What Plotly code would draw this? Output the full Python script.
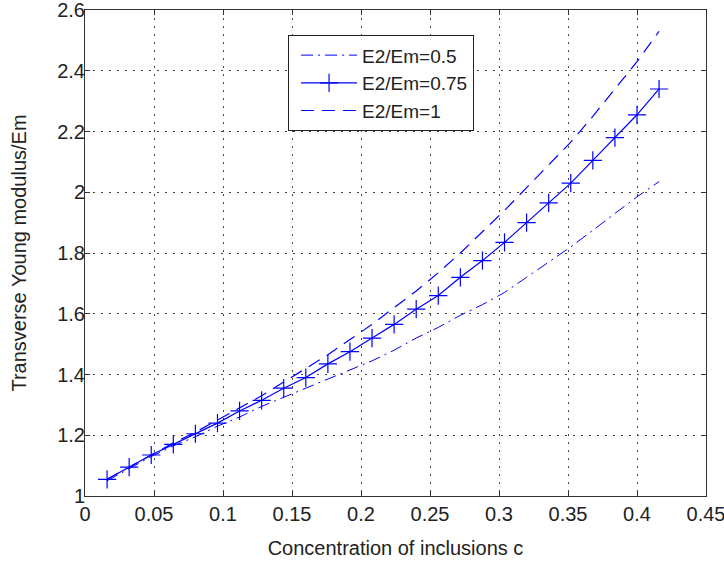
import plotly.graph_objects as go

# Concentration of inclusions c
c_vals = [0.016, 0.032, 0.048, 0.064, 0.080, 0.096, 0.112, 0.128, 0.144, 0.160,
          0.176, 0.192, 0.208, 0.224, 0.240, 0.256, 0.272, 0.288, 0.304, 0.320,
          0.336, 0.352, 0.368, 0.384, 0.400, 0.416]

# E2/Em = 0.5
e_050 = [1.050, 1.090, 1.130, 1.165, 1.195, 1.230, 1.260, 1.295, 1.325, 1.355,
         1.385, 1.415, 1.445, 1.480, 1.520, 1.555, 1.595, 1.630, 1.670, 1.720,
         1.770, 1.820, 1.875, 1.930, 1.985, 2.035]

# E2/Em = 0.75
e_075 = [1.055, 1.095, 1.135, 1.170, 1.205, 1.240, 1.280, 1.315, 1.355, 1.390,
         1.435, 1.475, 1.520, 1.565, 1.615, 1.660, 1.720, 1.775, 1.835, 1.900,
         1.965, 2.030, 2.105, 2.180, 2.255, 2.340]

# E2/Em = 1
e_100 = [1.055, 1.095, 1.135, 1.175, 1.210, 1.250, 1.290, 1.330, 1.375, 1.420,
         1.465, 1.515, 1.565, 1.620, 1.675, 1.735, 1.800, 1.870, 1.940, 2.015,
         2.090, 2.165, 2.250, 2.340, 2.430, 2.530]

x_ticks = [0, 0.05, 0.1, 0.15, 0.2, 0.25, 0.3, 0.35, 0.4, 0.45]
x_tick_text = ["0", "0.05", "0.1", "0.15", "0.2", "0.25", "0.3", "0.35", "0.4", "0.45"]
y_ticks = [1, 1.2, 1.4, 1.6, 1.8, 2, 2.2, 2.4, 2.6]
y_tick_text = ["1", "1.2", "1.4", "1.6", "1.8", "2", "2.2", "2.4", "2.6"]

BLUE = "#0000ff"
FONT = "Liberation Sans, Arial, sans-serif"
TXT = "#222222"

fig = go.Figure()
fig.add_trace(go.Scatter(
    x=c_vals, y=e_050, mode="lines", name="E2/Em=0.5",
    line=dict(color=BLUE, width=1, dash="12px,5px,2px,5px"),
))
fig.add_trace(go.Scatter(
    x=c_vals, y=e_075, mode="lines+markers", name="E2/Em=0.75",
    line=dict(color=BLUE, width=1.2),
    marker=dict(symbol="cross-thin", size=13, color=BLUE,
                line=dict(color=BLUE, width=1.2)),
))
fig.add_trace(go.Scatter(
    x=c_vals, y=e_100, mode="lines", name="E2/Em=1",
    line=dict(color=BLUE, width=1.2, dash="13px,8px"),
))

axis_common = dict(
    showline=True, linecolor="#333333", linewidth=1, mirror="ticks",
    ticks="inside", ticklen=5, tickcolor="#333333", tickwidth=1,
    showgrid=True, gridcolor="#444444", gridwidth=1, griddash="2px,6px",
    zeroline=False, automargin=False, ticklabeloverflow="allow",
    tickfont=dict(family=FONT, size=20, color=TXT),
)

fig.update_xaxes(
    range=[0, 0.45], tickvals=x_ticks, ticktext=x_tick_text,
    title=dict(text="Concentration of inclusions c", standoff=16,
               font=dict(family=FONT, size=20, color=TXT)),
    **axis_common,
)
fig.update_yaxes(
    range=[1, 2.6], tickvals=y_ticks, ticktext=y_tick_text,
    ticklabelstandoff=-5,
    title=dict(text="Transverse Young modulus/Em", standoff=25,
               font=dict(family=FONT, size=20, color=TXT)),
    **axis_common,
)

fig.update_layout(
    width=724, height=565,
    margin=dict(l=85, r=18, t=10, b=69),
    paper_bgcolor="white", plot_bgcolor="white",
    font=dict(family=FONT, size=20, color=TXT),
    legend=dict(
        x=0.327, y=0.948, xanchor="left", yanchor="top",
        bgcolor="white", bordercolor=TXT, borderwidth=1,
        font=dict(family=FONT, size=19, color=TXT),
        itemwidth=56, indentation=7, tracegroupgap=0,
    ),
    showlegend=True,
)

fig.write_html("out.html", config={"displayModeBar": False},
               post_script="document.body.style.margin='0px';")
